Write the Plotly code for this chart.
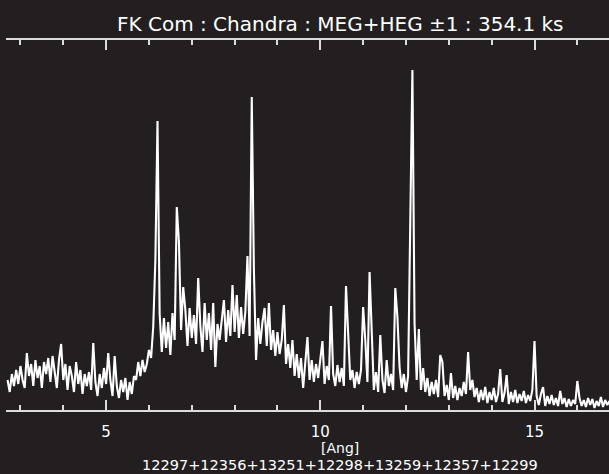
import numpy as np
import plotly.graph_objects as go

title_text = "FK Com : Chandra : MEG+HEG ±1 : 354.1 ks"
xlabel_text = "[Ang]"
obsid_text = "12297+12356+13251+12298+13259+12357+12299"
tick_vals = [5, 10, 15]
tick_text = ["5", "10", "15"]
x_range = [2.6634, 16.739]
y_range = [0, 370]

wave_start = 2.70   # first bin centre [Ang]
bin_width = 0.05    # [Ang]
counts = [
    30, 18, 36, 24, 40, 26, 44, 30, 22, 57,
    34, 46, 24, 50, 32, 44, 22, 48, 36, 52,
    28, 54, 38, 22, 50, 66, 30, 46, 20, 44,
    34, 18, 48, 26, 40, 16, 36, 24, 38, 20,
    67, 28, 14, 36, 22, 42, 26, 57, 30, 14,
    54, 24, 12, 30, 18, 32, 10, 28, 16, 34,
    30, 48, 34, 50, 38, 46, 60, 52, 83, 150,
    289, 96, 58, 92, 62, 88, 55, 97, 70, 203,
    168, 80, 123, 100, 64, 102, 72, 95, 66, 132,
    84, 58, 107, 70, 97, 60, 107, 43, 86, 70,
    90, 110, 68, 100, 74, 125, 78, 115, 72, 103,
    76, 98, 154, 74, 313, 140, 50, 92, 66, 88,
    102, 64, 107, 60, 80, 54, 78, 56, 70, 105,
    46, 66, 42, 70, 34, 56, 32, 52, 22, 48,
    73, 30, 50, 28, 46, 32, 48, 69, 26, 44,
    30, 104, 36, 24, 45, 28, 42, 24, 124, 82,
    30, 40, 22, 38, 26, 40, 103, 70, 28, 138,
    82, 20, 38, 18, 75, 30, 17, 50, 24, 36,
    20, 122, 93, 43, 22, 36, 18, 34, 187, 340,
    87, 30, 81, 20, 42, 18, 32, 14, 28, 16,
    30, 13, 55, 48, 14, 25, 10, 37, 12, 24,
    10, 22, 14, 28, 16, 58, 20, 30, 13, 22,
    8, 20, 10, 23, 7, 18, 10, 22, 8, 16,
    41, 8, 17, 35, 6, 18, 8, 20, 7, 16,
    9, 19, 7, 15, 9, 20, 69, 14, 5, 16,
    23, 4, 14, 6, 15, 5, 12, 4, 19, 6,
    12, 3, 11, 4, 10, 6, 29, 12, 4, 10,
    3, 12, 5, 11, 2, 9, 4, 13, 3, 10,
    5, 9,
]
wavelength = np.round(wave_start + bin_width * np.arange(len(counts)), 3)

BG = "#231f20"
AX = "#dcdcdc"
TXT = "#ffffff"
FONT = "DejaVu Sans"

fig = go.Figure(
    go.Scatter(
        x=wavelength, y=counts, mode="lines",
        line=dict(color="white", width=2.1, shape="linear"),
        hoverinfo="skip",
    )
)

fig.update_layout(
    width=609, height=474,
    margin=dict(l=6, r=0, t=40, b=64, pad=0),
    paper_bgcolor=BG, plot_bgcolor=BG,
    showlegend=False,
    xaxis=dict(
        range=x_range, showgrid=False, zeroline=False,
        showline=True, linecolor=AX, linewidth=2, mirror="allticks",
        ticks="inside", ticklen=10, tickwidth=1.5, tickcolor=AX,
        tickvals=tick_vals, ticktext=tick_text,
        tickfont=dict(family=FONT, size=15, color=TXT),
        ticklabelstandoff=7,
        minor=dict(dtick=1, tick0=0, ticks="inside", ticklen=5,
                   tickwidth=1.5, tickcolor=AX, showgrid=False),
    ),
    yaxis=dict(range=y_range, showgrid=False, zeroline=False,
               showline=False, showticklabels=False, ticks=""),
    annotations=[
        dict(text=title_text, xref="paper", yref="paper", x=0.554, y=1.0432,
             xanchor="center", yanchor="middle", showarrow=False,
             font=dict(family=FONT, size=20, color=TXT)),
        dict(text=xlabel_text, xref="paper", yref="paper", x=0.554, y=-0.1015,
             xanchor="center", yanchor="middle", showarrow=False,
             font=dict(family=FONT, size=14, color=TXT)),
        dict(text=obsid_text, xref="paper", yref="paper", x=0.554, y=-0.1475,
             xanchor="center", yanchor="middle", showarrow=False,
             font=dict(family=FONT, size=14.5, color=TXT)),
    ],
)

fig.write_html("out.html")
